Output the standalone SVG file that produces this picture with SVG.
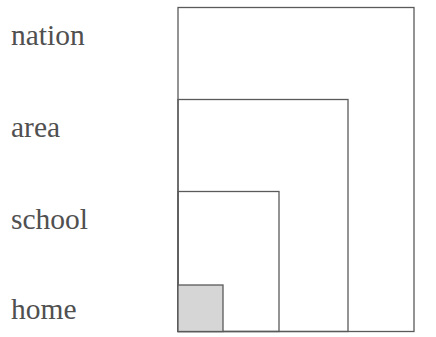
<svg xmlns="http://www.w3.org/2000/svg" width="436" height="337" viewBox="0 0 436 337">
<style>
.box{fill:none;stroke:#5a5a5a;stroke-width:1.3}
.lbl{font-family:"Liberation Serif",serif;font-size:29.5px;fill:#505050}
</style>
<rect width="436" height="337" fill="#fff"/>
<g id="nation"><rect class="box" x="178" y="7.5" width="236" height="324"/><text class="lbl" x="11" y="45">nation</text></g>
<g id="area"><rect class="box" x="178" y="99.5" width="170" height="232"/><text class="lbl" x="11" y="136.5">area</text></g>
<g id="school"><rect class="box" x="178" y="191.5" width="101" height="140"/><text class="lbl" x="11" y="228.5">school</text></g>
<g id="home"><rect class="box" x="178" y="285" width="45" height="46.5" style="fill:#d6d6d6"/><text class="lbl" x="11" y="318.5">home</text></g>
<g id="connectors"/>
</svg>
